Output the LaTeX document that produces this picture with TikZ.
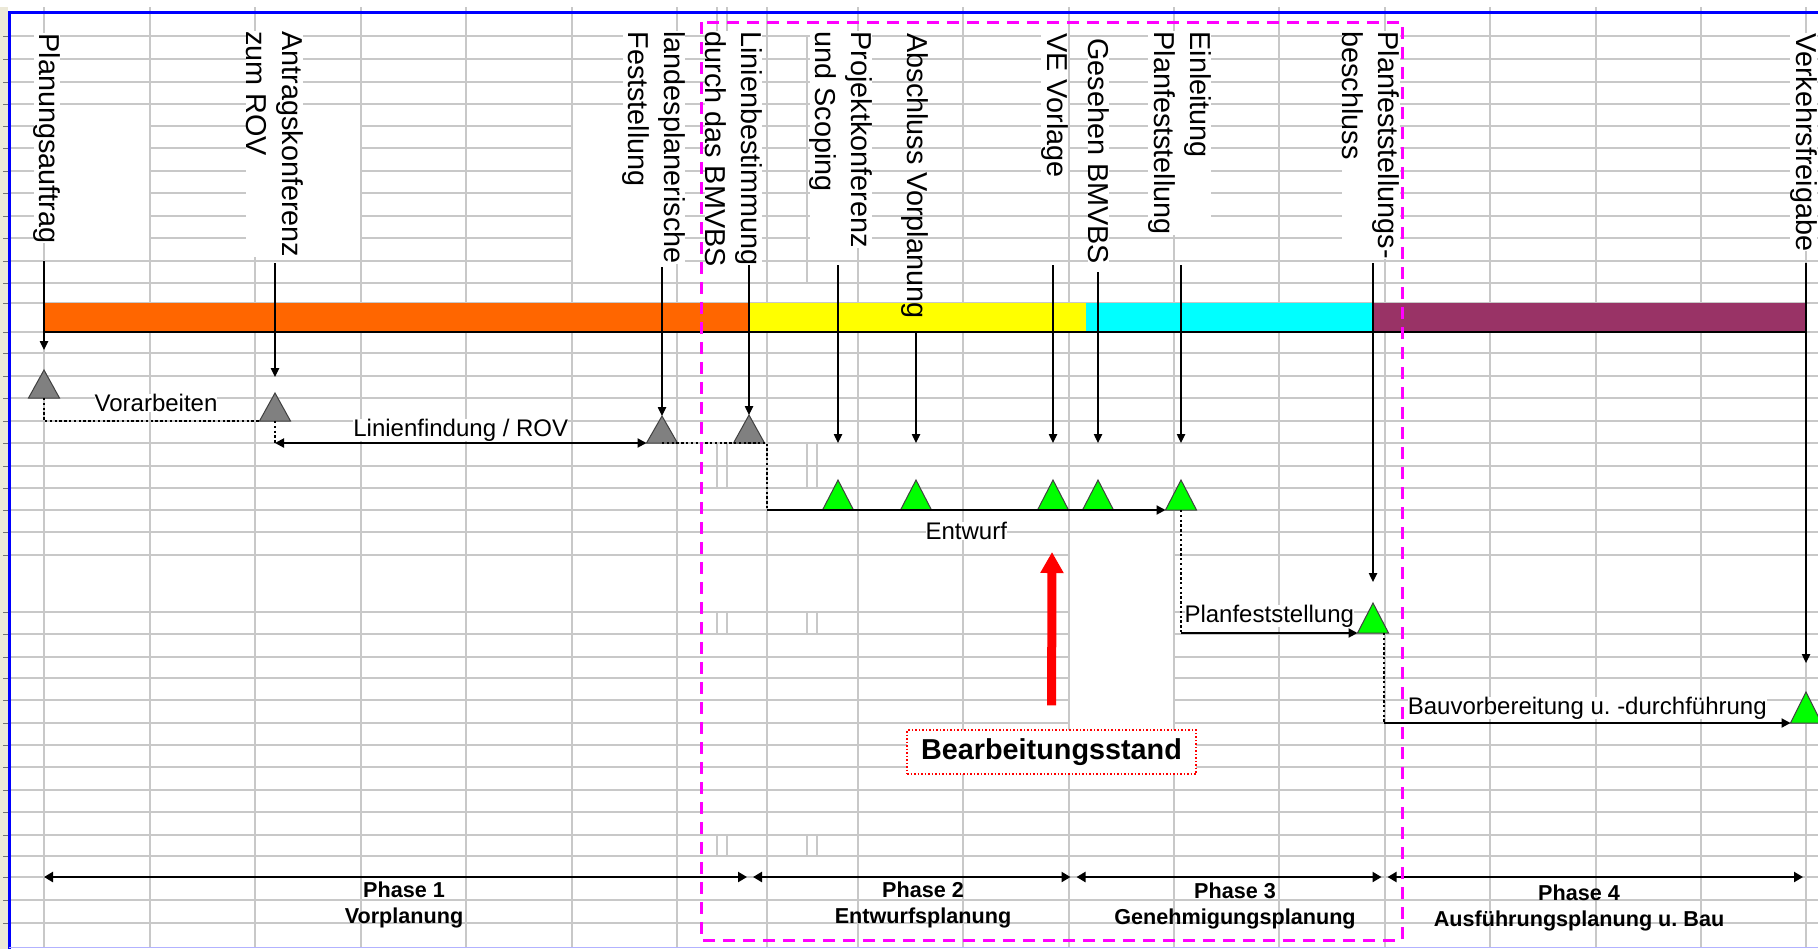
\documentclass[tikz,border=0pt]{standalone}
\usepackage{fontspec}
\setmainfont{Liberation Sans}
\usetikzlibrary{positioning}
\usetikzlibrary{arrows.meta}
\definecolor{barorange}{HTML}{FF6600}
\definecolor{baryellow}{HTML}{FFFF00}
\definecolor{barcyan}{HTML}{00FFFF}
\definecolor{barpurple}{HTML}{993366}
\definecolor{msgreen}{HTML}{00FF00}
\definecolor{msgray}{HTML}{808080}
\definecolor{cellgray}{HTML}{C8C8C8}
\definecolor{stripbeige}{HTML}{ECE9D8}
\definecolor{frameblue}{HTML}{0000FF}
\definecolor{boxmagenta}{HTML}{FF00FF}

% Meilenstein (Dreieck): Farbe/Hoehe
\tikzset{
pics/milestone/.style args={#1/#2}{code={
\coordinate (-base) at (0,0);
\coordinate (-apex) at (0,-#2);
\coordinate (-left) at (-15.5,0);
\coordinate (-right) at (15.5,0);
\filldraw[fill=#1, draw=black!75, line width=0.5pt] (-left) -- (-apex) -- (-right) -- cycle;
}}
}

\begin{document}
\begin{tikzpicture}
[x=0.5pt, y=-0.5pt,
% Gitter der Tabelle
gridline/.style={cellgray, line width=0.6pt},
% senkrechte Beschriftung der Meilensteine
vlabel/.style={rotate=-90, anchor=west, align=left, fill=white, inner sep=0pt,
font=\fontsize{14.4pt}{18pt}\selectfont},
% waagrechte Beschriftung der Abschnitte
hlabel/.style={fill=white, inner sep=0pt, font=\fontsize{12pt}{14pt}\selectfont},
% Phasen
phaselabel/.style={anchor=north, align=center, inner sep=0pt,
font=\bfseries\fontsize{10.8pt}{13pt}\selectfont},
% Pfeile
msarrow/.style={-{Triangle[length=4.5pt, width=4.2pt]}, line width=0.6pt},
flow/.style={-{Triangle[length=4.5pt, width=4.5pt]}, line width=1pt},
duo/.style={{Triangle[length=4.5pt, width=4.5pt]}-{Triangle[length=4.5pt, width=4.5pt]}, line width=1pt},
phasearrow/.style={{Triangle[length=4.5pt, width=5pt]}-{Triangle[length=4.5pt, width=5pt]}, line width=1.2pt},
dotlink/.style={line width=1.2pt, dash pattern=on 1.2pt off 1.2pt},
% Bearbeitungsstand
statusbox/.style={draw=red, densely dotted, line width=0.75pt, fill=white, inner sep=0pt,
minimum width=144.5pt, minimum height=22pt, font=\bfseries\fontsize{14.4pt}{17pt}\selectfont},
statusarrow/.style={-{Triangle[length=10.5pt, width=11pt]}, line width=4.5pt, red}
]
\useasboundingbox (0,0) rectangle (1818,949);
\clip (0,0) rectangle (1818,949);
\fill[white] (0,0) rectangle (1818,949);

% Zeilenkoepfe am linken Rand
\fill[stripbeige] (0,7) rectangle (8,949);
\foreach \y in {36,59,82,104,126,148,171,193,216,238,261,283,303,332,353,376,398,421,443,466,488,510,532,555,612,634,657,678,700,723,745,767,790,812,835,856,877,900,923}
  \draw[black!55, line width=0.5pt] (3,\y) -- (8,\y);

% Gitter
\foreach \y in {36,59,82,104,126,148,171,193,216,238,261,283,303,332,353,376,398,421,443,466,488,510,532,555,612,634,657,678,700,723,745,767,790,812,835,856,877,900,923}
  \draw[gridline] (9,\y) -- (1818,\y);
\foreach \x in {44,150,255,361,466,572,677,767,858,963,1069,1174,1279,1385,1490,1596,1701,1806}
  \draw[gridline] (\x,7) -- (\x,947);
\foreach \x in {717,727,807,817}
  \foreach \a/\b in {443/488,612/634,835/856}
    \draw[gridline] (\x,\a) -- (\x,\b);
\draw[gridline] (717,7) -- (717,36);
\draw[gridline] (727,7) -- (727,104);
\draw[gridline] (807,36) -- (807,283);
% verbundene Zellen
\fill[white] (45,105) rectangle (149,260);
\fill[white] (256,105) rectangle (360,260);
\fill[white] (573,105) rectangle (676,282);
\fill[white] (1070,540) rectangle (1173,726);

% Rahmen
\draw[frameblue, line width=1.5pt] (9.5,949) -- (9.5,12) -- (1818,12);
\draw[frameblue!30, line width=0.5pt] (9,947) -- (1818,947);

% Balken
\fill[barorange] (44,303) rectangle (748,332);
\fill[baryellow] (748,303) rectangle (1086,332);
\fill[barcyan] (1086,303) rectangle (1373,332);
\fill[barpurple] (1373,303) rectangle (1806,332);
\draw[line width=0.6pt] (44,332) -- (1806,332);

% Beschriftung der Meilensteine
\node[vlabel] (auftragL) at (47,33) {Planungsauftrag};
\node[vlabel] (antragL) at (274.5,31) {Antragskonferenz\\zum ROV};
\node[vlabel] (landesL) at (654,31) {landesplanerische\\Feststellung};
\node[vlabel] (linieL) at (733.5,31) {Linienbestimmung\\durch das BMVBS};
\node[vlabel] (projektL) at (841,31) {Projektkonferenz\\und Scoping};
\node[vlabel, fill=none] (abschlussL) at (915,33) {Abschluss Vorplanung};
\node[vlabel] (vorlageL) at (1054.5,33) {VE Vorlage};
\node[vlabel] (gesehenL) at (1098.5,38) {Gesehen BMVBS};
\node[vlabel] (einleitungL) at (1179.5,31) {Einleitung\\Planfeststellung};
\node[vlabel] (beschlussL) at (1371,31) {Planfeststellungs-\\beschluss};
\node[vlabel] (freigabeL) at (1803.5,33) {Verkehrsfreigabe};

% Meilensteine
\pic (auftrag) at (44,398) {milestone=msgray/28};
\pic (antrag) at (275,421) {milestone=msgray/28};
\pic (landes) at (662,443) {milestone=msgray/27};
\pic (linie) at (749,443) {milestone=msgray/28};
\pic (projekt) at (838,510) {milestone=msgreen/30};
\pic (abschluss) at (916,510) {milestone=msgreen/30};
\pic (vorlage) at (1053,510) {milestone=msgreen/30};
\pic (gesehen) at (1098,510) {milestone=msgreen/30};
\pic (einleitung) at (1181,510) {milestone=msgreen/30};
\pic (beschluss) at (1373,633) {milestone=msgreen/30};
\pic (freigabe) at (1806,723) {milestone=msgreen/31};

% Pfeile von den Beschriftungen
\foreach \n/\y/\g in {auftrag/261/10, antrag/263/8, landes/267/0, linie/265/0,
  projekt/265/18.5, abschluss/332/18.5, vorlage/265/18.5, gesehen/272/18.5,
  einleitung/265/18.5, beschluss/263/10.5, freigabe/263/14.5}
  \draw[msarrow, shorten >=\g pt] (\n-apex |- 0,\y) -- (\n-apex);

% Abschnitte
\coordinate (rov) at (275,443);
\coordinate (entwurf) at (767,510);
\coordinate (pf) at (1181,633);
\coordinate (bau) at (1384,723);
\draw[dotlink] (auftrag-base) |- (antrag-left)
  node[hlabel, pos=0.76, above=4pt] (vorarbeiten) {Vorarbeiten};
\draw[dotlink] (antrag-base) -- (rov);
\draw[duo] (rov) -- (landes-left)
  node[hlabel, midway, above=0.5pt] (linienfindung) {Linienfindung / ROV};
\draw[dotlink] (landes-base) -| (entwurf);
\draw[flow] (entwurf) -- (einleitung-left)
  node[hlabel, midway, below=5.5pt] (entwurfL) {Entwurf};
\draw[dotlink] (einleitung-base) -- (pf);
\draw[flow] (pf) -- (beschluss-left)
  node[hlabel, midway, above=2.5pt] (pfL) {Planfeststellung};
\draw[dotlink] (bau |- beschluss-base) -- (bau);
\draw[flow] (bau) -- (freigabe-left)
  node[hlabel, midway, above=1.5pt] (bauL) {Bauvorbereitung u.\ -durchführung};

% Phasen
\coordinate (ph0) at (44,877);
\coordinate (ph1) at (750,877);
\coordinate (ph2) at (1073.5,877);
\coordinate (ph3) at (1384.5,877);
\coordinate (ph4) at (1803,877);
\draw[phasearrow, shorten >=1.5pt] (ph0) -- (ph1);
\draw[phasearrow, shorten <=1.5pt, shorten >=1.5pt] (ph1) -- (ph2);
\draw[phasearrow, shorten <=1.5pt, shorten >=1.5pt] (ph2) -- (ph3);
\draw[phasearrow, shorten <=1.5pt] (ph3) -- (ph4);
\node[phaselabel] (phase1) at (404,881) {Phase 1\\Vorplanung};
\node[phaselabel] (phase2) at (923,881) {Phase 2\\Entwurfsplanung};
\node[phaselabel] (phase3) at (1235,882) {Phase 3\\Genehmigungsplanung};
\node[phaselabel] (phase4) at (1579,884) {Phase 4\\Ausführungsplanung u.\ Bau};

% Rahmen um den aktuellen Bereich
\draw[boxmagenta, line width=1.5pt, dash pattern=on 6pt off 4pt] (701,22) rectangle (1402,940);

% Bearbeitungsstand
\node[statusbox] (stand) at (1051.5,752) {Bearbeitungsstand};
\coordinate (standtip) at (1052,552);
\draw[statusarrow, shorten <=12pt] (stand.north) -- (standtip);
\end{tikzpicture}
\end{document}
